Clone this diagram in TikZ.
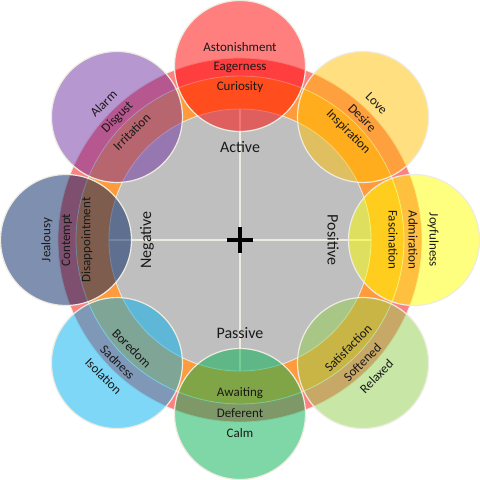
\documentclass[tikz,border=0pt]{standalone}
\usepackage{fontspec}
\setmainfont{Carlito}

\definecolor{ringpink}{RGB}{255,128,128}
\definecolor{ringorange}{RGB}{255,155,60}
\definecolor{coregray}{RGB}{191,191,191}
\definecolor{rimline}{RGB}{238,236,225}
\definecolor{petred}{RGB}{255,0,0}
\definecolor{petamber}{RGB}{255,192,0}
\definecolor{petyellow}{RGB}{255,255,0}
\definecolor{petlime}{RGB}{146,208,80}
\definecolor{petgreen}{RGB}{0,176,80}
\definecolor{petsky}{RGB}{0,176,240}
\definecolor{petnavy}{RGB}{0,32,96}
\definecolor{petpurple}{RGB}{112,48,160}

\tikzset{
	petal/.style={draw=rimline, line width=1.2pt, fill opacity=0.5, draw opacity=1},
	rim/.style={draw=rimline, line width=0.8pt},
	word/.style={font=\fontsize{13}{15}\selectfont, text=black!90, inner sep=0pt},
	pole/.style={font=\fontsize{16}{19}\selectfont, text=black!90, inner sep=0pt}
}

\begin{document}
\begin{tikzpicture}[x=1pt, y=1pt]
		\useasboundingbox (-240,-240) rectangle (240,240);

		% rings and core
		\filldraw [rim, fill=ringpink]		(0,0) circle (182);
		\filldraw [rim, fill=ringorange]	(0,0) circle (164);
		\filldraw [rim, fill=coregray]		(0,0) circle (131);

		\draw [rimline, line width=1.2pt]	(-131,0) to (131,0);
		\draw [rimline, line width=1.2pt]	(0,-131) to (0,131);

		% petals
		\filldraw [petal, fill=petred]		(90:174) circle (65.5);
		\filldraw [petal, fill=petamber]	(45:174) circle (65.5);
		\filldraw [petal, fill=petyellow]	(0:174) circle (65.5);
		\filldraw [petal, fill=petlime]		(-45:174) circle (65.5);
		\filldraw [petal, fill=petgreen]	(-90:174) circle (65.5);
		\filldraw [petal, fill=petsky]		(-135:174) circle (65.5);
		\filldraw [petal, fill=petnavy]		(180:174) circle (65.5);
		\filldraw [petal, fill=petpurple]	(135:174) circle (65.5);

		% words
		\node [word] (astonishment) at (90:193) {Astonishment};
		\node [word] (eagerness) at (90:173) {Eagerness};
		\node [word] (curiosity) at (90:153) {Curiosity};

		\node [word, rotate=-45] (love) at (45:193) {Love};
		\node [word, rotate=-45] (desire) at (45:173) {Desire};
		\node [word, rotate=-45] (inspiration) at (45:153) {Inspiration};

		\node [word, rotate=-90] (joyfulness) at (0:193) {Joyfulness};
		\node [word, rotate=-90] (admiration) at (0:173) {Admiration};
		\node [word, rotate=-90] (fascination) at (0:153) {Fascination};

		\node [word, rotate=45] (relaxed) at (-45:193) {Relaxed};
		\node [word, rotate=45] (softened) at (-45:173) {Softened};
		\node [word, rotate=45] (satisfaction) at (-45:153) {Satisfaction};

		\node [word] (calm) at (-90:193) {Calm};
		\node [word] (deferent) at (-90:173) {Deferent};
		\node [word] (awaiting) at (-90:153) {Awaiting};

		\node [word, rotate=-45] (isolation) at (-135:193) {Isolation};
		\node [word, rotate=-45] (sadness) at (-135:173) {Sadness};
		\node [word, rotate=-45] (boredom) at (-135:153) {Boredom};

		\node [word, rotate=90] (jealousy) at (180:193) {Jealousy};
		\node [word, rotate=90] (contempt) at (180:173) {Contempt};
		\node [word, rotate=90] (disappointment) at (180:153) {Disappointment};

		\node [word, rotate=45] (alarm) at (135:193) {Alarm};
		\node [word, rotate=45] (disgust) at (135:173) {Disgust};
		\node [word, rotate=45] (irritation) at (135:153) {Irritation};

		% poles
		\node [pole] (active) at (90:93) {Active};
		\node [pole, rotate=-90] (positive) at (0:93) {Positive};
		\node [pole] (passive) at (-90:93) {Passive};
		\node [pole, rotate=90] (negative) at (180:93) {Negative};

		\draw [black, line width=4pt]	(-13,0) to (13,0);
		\draw [black, line width=4pt]	(0,-13) to (0,13);
	\end{tikzpicture}
\end{document}
